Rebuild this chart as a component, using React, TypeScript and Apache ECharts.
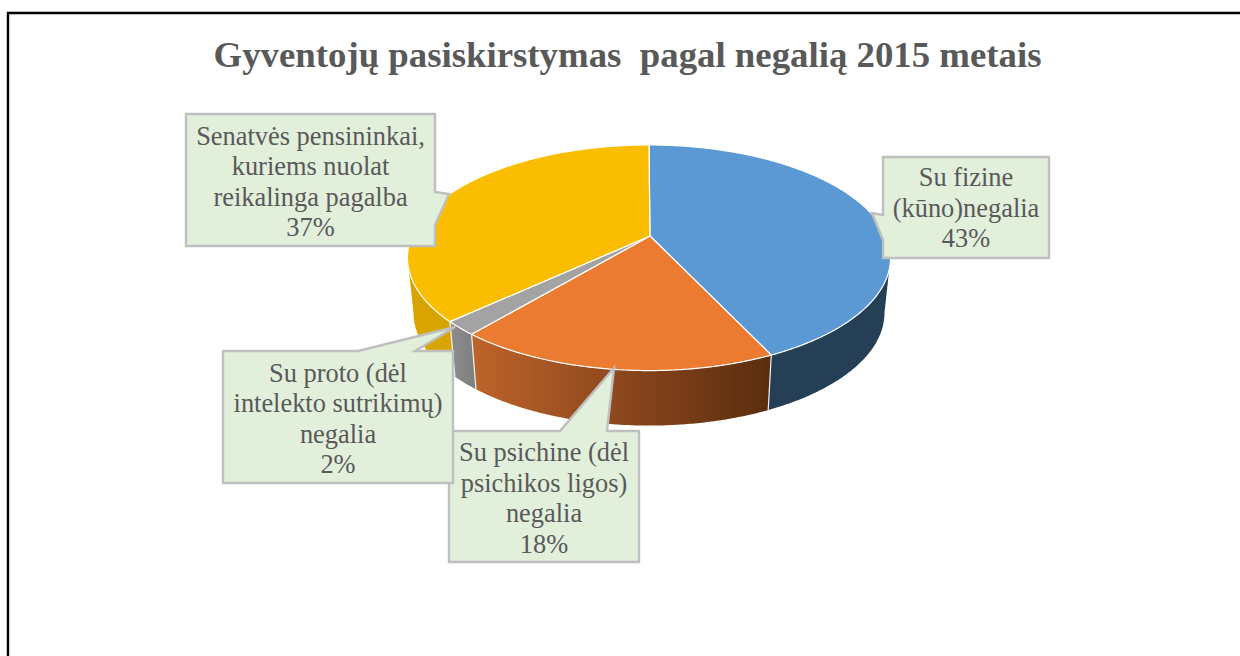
import React, { useEffect, useRef } from "react";
import * as echarts from "echarts";

const titleText = "Gyventojų pasiskirstymas  pagal negalią 2015 metais";
const categories = [
  "Su fizine\n(kūno)negalia",
  "Su psichine (dėl\npsichikos ligos)\nnegalia",
  "Su proto (dėl\nintelekto sutrikimų)\nnegalia",
  "Senatvės pensininkai,\nkuriems nuolat\nreikalinga pagalba",
];
const shares = [43, 18, 2, 37];

const TOP_COLORS = ["#5A99D4", "#EB7B30", "#A3A3A3", "#FBBD00"];
const SERIF = '"Liberation Serif", "Times New Roman", serif';
const INK = "#595959";

// perspective projection of the pie's rim (clockwise degrees from 12 o'clock)
const CX = 649, CY = 236, KX = 237, KY = 108.6, P = 0.193, DEPTH = 55, SHRINK = 0.975;
const FRONT_FROM = 101, FRONT_TO = 259;
const rim = (deg: number): number[] => {
  const t = (deg * Math.PI) / 180;
  const x = Math.sin(t), y = -Math.cos(t), d = 1 - P * y;
  return [CX + (KX * x) / d, CY + (KY * y) / d];
};
const floorRim = (deg: number): number[] => {
  const [x, y] = rim(deg);
  return [CX + (x - CX) * SHRINK, y + DEPTH];
};
const arc = (from: number, to: number, f: (d: number) => number[]) => {
  const pts: number[][] = [];
  const n = Math.max(2, Math.ceil(Math.abs(to - from) * 2));
  for (let i = 0; i <= n; i++) pts.push(f(from + ((to - from) * i) / n));
  return pts;
};
const total = shares.reduce((a, b) => a + b, 0);
const sliceAngles = (i: number, value: number) => {
  const before = shares.slice(0, i).reduce((a, b) => a + b, 0);
  return [(before / total) * 360, ((before + value) / total) * 360];
};

const wallFill = (i: number): any => {
  if (i === 0) return "#243F56";
  if (i === 3) return "#D8A400";
  if (i === 2)
    return new echarts.graphic.LinearGradient(0, 0, 1, 0, [
      { offset: 0, color: "#8C8C8C" },
      { offset: 1, color: "#7E7E7E" },
    ]);
  return new echarts.graphic.LinearGradient(0, 0, 1, 0, [
    { offset: 0, color: "#BE642A" },
    { offset: 0.55, color: "#87441B" },
    { offset: 1, color: "#5A2D0F" },
  ]);
};

const renderWall = (params: any, api: any) => {
  const i = params.dataIndex;
  const [a0, a1] = sliceAngles(i, api.value(0));
  const from = Math.max(a0, FRONT_FROM), to = Math.min(a1, FRONT_TO);
  const children: any[] = [];
  if (to > from) {
    children.push({
      type: "polygon",
      shape: { points: [...arc(from, to, rim), ...arc(to, from, floorRim)] },
      style: { fill: wallFill(i) },
    });
    if (a0 >= FRONT_FROM && a0 <= FRONT_TO) {
      const [x1, y1] = rim(a0), [x2, y2] = floorRim(a0);
      children.push({
        type: "line",
        shape: { x1, y1, x2, y2 },
        style: { stroke: "#F2F2F2", lineWidth: 1.2 },
        z2: 5,
      });
    }
  }
  return { type: "group", children };
};

const renderTop = (params: any, api: any) => {
  const i = params.dataIndex;
  const [a0, a1] = sliceAngles(i, api.value(0));
  return {
    type: "polygon",
    shape: { points: [[CX + 1, CY], ...arc(a0, a1, rim)] },
    style: { fill: TOP_COLORS[i], stroke: "#FFFFFF", lineWidth: 1.2, lineJoin: "round" },
  };
};

// callout boxes: rectangle plus a tail of three points, in the order of drawing
const CALLOUTS = [
  { i: 0, x: 883, y: 157, w: 166, h: 101, tail: [[883, 240], [872, 213], [883, 215]], side: "left", dy: 0 },
  { i: 3, x: 186, y: 114, w: 249, h: 132, tail: [[435, 192], [449, 194], [435, 225]], side: "right", dy: 1.5 },
  { i: 1, x: 449, y: 431, w: 190, h: 131, tail: [[560, 431], [614, 368], [607, 431]], side: "top", dy: 1.5 },
  { i: 2, x: 223, y: 351, w: 230, h: 132, tail: [[358, 351], [455, 327], [415, 351]], side: "top", dy: 1.5 },
];

const calloutOutline = (c: (typeof CALLOUTS)[number]) => {
  const { x, y, w, h, tail, side } = c;
  const r = x + w, b = y + h;
  if (side === "left") return [[x, y], [r, y], [r, b], [x, b], ...tail];
  if (side === "right") return [[x, y], [r, y], ...tail, [r, b], [x, b]];
  return [[x, y], ...tail, [r, y], [r, b], [x, b]];
};

const graphics: any[] = [
  {
    type: "polyline",
    shape: { points: [[8, 656], [8, 13], [1240, 13]] },
    style: { stroke: "#000000", lineWidth: 2.4, fill: "none" },
    z: 1,
  },
  {
    type: "text",
    x: 627.5,
    y: 54,
    style: {
      text: titleText,
      fontFamily: SERIF,
      fontWeight: "bold",
      fontSize: 36.8,
      fill: INK,
      align: "center",
      verticalAlign: "middle",
    },
    z: 20,
  },
  ...CALLOUTS.flatMap((c, n) => [
    {
      type: "polygon",
      shape: { points: calloutOutline(c) },
      style: { fill: "#E2EFDB", stroke: "#BFBFBF", lineWidth: 2.4, lineJoin: "miter" },
      z: 30 + n * 2,
    },
    {
      type: "text",
      x: c.x + c.w / 2,
      y: c.y + c.h / 2 + c.dy,
      style: {
        text: `${categories[c.i]}\n${shares[c.i]}%`,
        fontFamily: SERIF,
        fontSize: 26.4,
        lineHeight: 30.5,
        fill: INK,
        align: "center",
        verticalAlign: "middle",
      },
      z: 31 + n * 2,
    },
  ]),
];

export default function App() {
  const ref = useRef<HTMLDivElement>(null);
  useEffect(() => {
    document.body.style.margin = "0";
    const chart = echarts.init(ref.current!, undefined, { renderer: "svg" });
    const data = shares.map((v, i) => ({ name: categories[i], value: [v] }));
    chart.setOption({
      animation: false,
      backgroundColor: "#FFFFFF",
      series: [
        { type: "custom", coordinateSystem: "none", renderItem: renderWall, data, z: 2, silent: true, clip: false },
        { type: "custom", coordinateSystem: "none", renderItem: renderTop, data, z: 3, silent: true, clip: false },
      ],
      graphic: { elements: graphics },
    });
    return () => chart.dispose();
  }, []);
  return <div ref={ref} style={{ width: 1240, height: 656 }} />;
}
